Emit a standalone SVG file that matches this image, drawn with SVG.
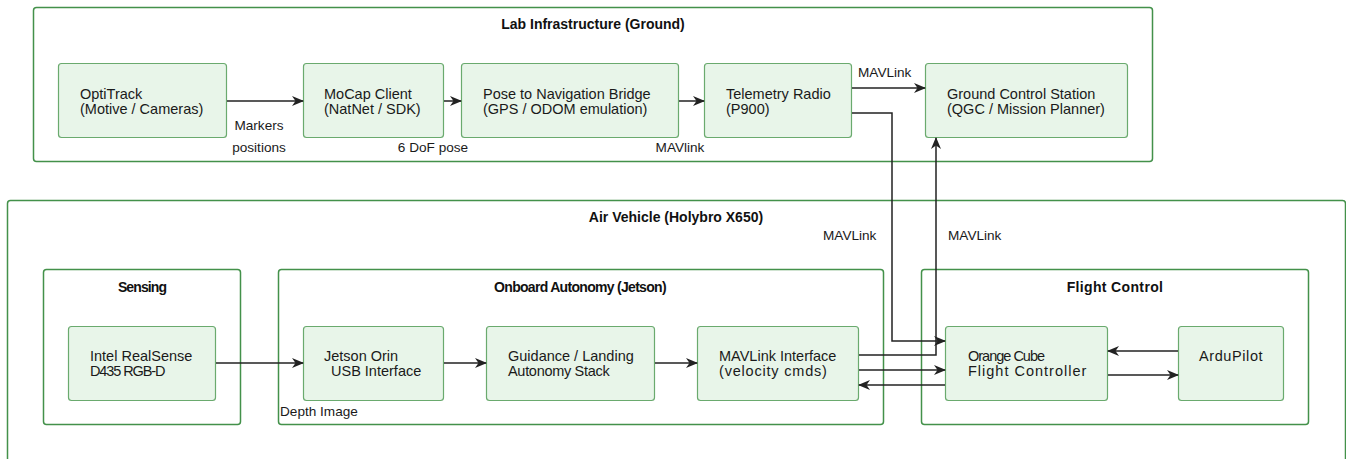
<svg xmlns="http://www.w3.org/2000/svg" width="1346" height="459" viewBox="0 0 1346 459">
<style>
.cont{fill:#ffffff;stroke:#43914a;stroke-width:1.5}
.sub{fill:none;stroke:#43914a;stroke-width:1.5}
.node{fill:#e8f5e9;stroke:#6aaa6e;stroke-width:1.2}
.t{font-family:"Liberation Sans",Arial,sans-serif;font-size:14.5px;fill:#1a1a1a}
.tb{font-family:"Liberation Sans",Arial,sans-serif;font-size:14px;font-weight:bold;fill:#111}
.lbl{font-family:"Liberation Sans",Arial,sans-serif;font-size:13.6px;fill:#1a1a1a}
.c{fill:none;stroke:#222;stroke-width:1.5}
</style>
<defs>
<marker id="ah" viewBox="0 0 12 10" refX="11" refY="5" markerWidth="12" markerHeight="10" markerUnits="userSpaceOnUse" orient="auto">
<path d="M0,0 L12,5 L0,10 L3.5,5 z" fill="#222"/>
</marker>
</defs>
<g id="lab">
<rect class="cont" x="33.5" y="7.5" width="1119" height="154" rx="3"/>
<text class="tb" x="593" y="29" text-anchor="middle">Lab Infrastructure (Ground)</text>
</g>
<g id="air">
<rect class="cont" x="7.5" y="200.5" width="1338" height="270" rx="3"/>
<text class="tb" x="676" y="222" text-anchor="middle" font-size="13.3">Air Vehicle (Holybro X650)</text>
</g>
<g id="sensing">
<rect class="sub" x="43.5" y="269.5" width="197" height="155" rx="3"/>
<text class="tb" x="142" y="292" text-anchor="middle" letter-spacing="-0.9">Sensing</text>
</g>
<g id="onboard">
<rect class="sub" x="278.5" y="269.5" width="605" height="155" rx="3"/>
<text class="tb" x="580" y="292" text-anchor="middle" letter-spacing="-0.7">Onboard Autonomy (Jetson)</text>
</g>
<g id="flightcontrol">
<rect class="sub" x="921.5" y="269.5" width="387" height="155" rx="3"/>
<text class="tb" x="1115" y="292" text-anchor="middle" letter-spacing="0.35">Flight Control</text>
</g>
<g id="optitrack">
<rect class="node" x="58.5" y="63.5" width="168" height="74" rx="3"/>
<text class="t" x="80" y="99">OptiTrack</text>
<text class="t" x="80" y="114">(Motive / Cameras)</text>
</g>
<g id="mocap">
<rect class="node" x="303.5" y="63.5" width="140" height="74" rx="3"/>
<text class="t" x="324" y="99">MoCap Client</text>
<text class="t" x="324" y="114">(NatNet / SDK)</text>
</g>
<g id="bridge">
<rect class="node" x="461.5" y="63.5" width="217" height="74" rx="3"/>
<text class="t" x="483" y="99">Pose to Navigation Bridge</text>
<text class="t" x="483" y="114">(GPS / ODOM emulation)</text>
</g>
<g id="radio">
<rect class="node" x="704.5" y="63.5" width="147" height="74" rx="3"/>
<text class="t" x="726" y="99">Telemetry Radio</text>
<text class="t" x="726" y="114">(P900)</text>
</g>
<g id="gcs">
<rect class="node" x="925.5" y="63.5" width="202" height="74" rx="3"/>
<text class="t" x="947" y="99">Ground Control Station</text>
<text class="t" x="947" y="114">(QGC / Mission Planner)</text>
</g>
<g id="realsense">
<rect class="node" x="68.5" y="326.5" width="147" height="74" rx="3"/>
<text class="t" x="90" y="361">Intel RealSense</text>
<text class="t" x="90" y="376" letter-spacing="-1.1">D435 RGB-D</text>
</g>
<g id="jetson">
<rect class="node" x="303.5" y="326.5" width="140" height="74" rx="3"/>
<text class="t" x="324" y="361">Jetson Orin</text>
<text class="t" x="331" y="376">USB Interface</text>
</g>
<g id="guidance">
<rect class="node" x="486.5" y="326.5" width="168" height="74" rx="3"/>
<text class="t" x="508" y="361">Guidance / Landing</text>
<text class="t" x="508" y="376" letter-spacing="-0.3">Autonomy Stack</text>
</g>
<g id="mavif">
<rect class="node" x="697.5" y="326.5" width="161" height="74" rx="3"/>
<text class="t" x="719" y="361">MAVLink Interface</text>
<text class="t" x="719" y="376" letter-spacing="0.8">(velocity cmds)</text>
</g>
<g id="orangecube">
<rect class="node" x="945.5" y="326.5" width="162" height="74" rx="3"/>
<text class="t" x="968" y="361" letter-spacing="-1">Orange Cube</text>
<text class="t" x="968" y="376" letter-spacing="1">Flight Controller</text>
</g>
<g id="ardupilot">
<rect class="node" x="1178.5" y="326.5" width="105" height="74" rx="3"/>
<text class="t" x="1199" y="361" letter-spacing="0.6">ArduPilot</text>
</g>
<g id="connectors">
<path class="c" d="M227,101 H303" marker-end="url(#ah)"/>
<path class="c" d="M444,101 H461" marker-end="url(#ah)"/>
<path class="c" d="M679,101 H704" marker-end="url(#ah)"/>
<path class="c" d="M852,88 H925" marker-end="url(#ah)"/>
<path class="c" d="M852,113 H892 V341 H945" marker-end="url(#ah)"/>
<path class="c" d="M859,355 H936 V138" marker-end="url(#ah)"/>
<path class="c" d="M859,370 H945" marker-end="url(#ah)"/>
<path class="c" d="M945,385 H859" marker-end="url(#ah)"/>
<path class="c" d="M216,363 H303" marker-end="url(#ah)"/>
<path class="c" d="M444,363 H486" marker-end="url(#ah)"/>
<path class="c" d="M655,363 H697" marker-end="url(#ah)"/>
<path class="c" d="M1178,351 H1108" marker-end="url(#ah)"/>
<path class="c" d="M1108,375 H1178" marker-end="url(#ah)"/>
<text class="lbl" x="259" y="130" text-anchor="middle">Markers</text>
<text class="lbl" x="259" y="152" text-anchor="middle">positions</text>
<text class="lbl" x="433" y="152" text-anchor="middle">6 DoF pose</text>
<text class="lbl" x="680" y="152" text-anchor="middle">MAVlink</text>
<text class="lbl" x="858" y="77">MAVLink</text>
<text class="lbl" x="823" y="240">MAVLink</text>
<text class="lbl" x="948" y="240">MAVLink</text>
<text class="lbl" x="280" y="416">Depth Image</text>
</g>
</svg>
